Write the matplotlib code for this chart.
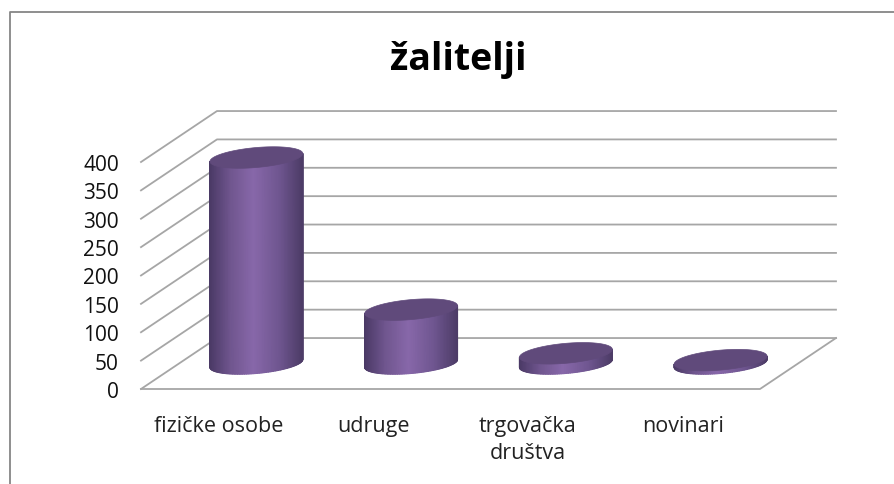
import numpy as np
import matplotlib
matplotlib.use('Agg')
import matplotlib.pyplot as plt
from matplotlib.colors import LinearSegmentedColormap
from matplotlib.lines import Line2D

naslov = 'žalitelji'
kategorije = ['fizičke osobe', 'udruge', 'trgovačka\ndruštva', 'novinari']
vrijednosti = [363, 95, 18, 6]
y_oznake = [0, 50, 100, 150, 200, 250, 300, 350, 400]

W, H = 895, 485
plt.rcParams['font.family'] = ['Open Sans', 'DejaVu Sans']

fig = plt.figure(figsize=(W / 100, H / 100), dpi=100)
# prednja ravnina grafa: x 141-760 px, y 163-390 px
ax = fig.add_axes([141 / W, 1 - 390 / H, (760 - 141) / W, (390 - 163) / H])
ax.set_xlim(-0.5, 3.5)
ax.set_ylim(0, 400)
ax.patch.set_visible(False)
for s in ax.spines.values():
    s.set_visible(False)

# pomak dubine u jedinicama osi
dx = 0.491
dy = 89.8
siva = '#a6a6a6'

for v in y_oznake:
    ax.plot([-0.5, -0.5 + dx, 3.5 + dx], [v, v + dy, v + dy], color=siva, lw=1.3, clip_on=False, zorder=1)
ax.plot([-0.5, 3.5, 3.5 + dx], [0, 0, dy], color=siva, lw=1.3, clip_on=False, zorder=1)

# valjci
a = 0.300
sm = 7.0
b = 17.6
cmap = LinearSegmentedColormap.from_list('ljub', [(0, '#4b3a66'), (0.22, '#70568f'), (0.47, '#8868aa'),
                                                  (0.75, '#6f5690'), (1, '#4d3c67')])
t = np.linspace(np.pi, 2 * np.pi, 80)
sv = np.linspace(0, 2 * np.pi, 200)
for i, v in enumerate(vrijednosti):
    cx = i + dx / 2
    y0 = dy / 2
    x_ruba = cx + a * np.cos(t)
    y_ruba = y0 + sm * np.cos(t) + b * np.sin(t)
    X = np.vstack([x_ruba, x_ruba])
    Y = np.vstack([y_ruba, y0 + v + sm * np.cos(t)])
    C = np.vstack([(x_ruba - x_ruba[0]) / (x_ruba[-1] - x_ruba[0])] * 2)
    ax.pcolormesh(X, Y, C, cmap=cmap, vmin=0, vmax=1, shading='gouraud', clip_on=False, zorder=3)
    ax.fill(cx + a * np.cos(sv), y0 + v + sm * np.cos(sv) + b * np.sin(sv), color='#604a7b', lw=0.5,
            clip_on=False, zorder=4)

ax.set_xlim(-0.5, 3.5)
ax.set_ylim(0, 400)
ax.set_yticks(y_oznake)
ax.set_xticks(range(len(kategorije)))
ax.set_xticklabels(kategorije, linespacing=1.38)
ax.tick_params(axis='y', length=0, pad=16, labelsize=15, labelcolor='#111111')
ax.tick_params(axis='x', length=0, pad=19, labelsize=15.5, labelcolor='#222222')

fig.text(458 / W, 1 - 60 / H, naslov, ha='center', va='center', fontsize=27, fontweight='bold', color='black')

# okvir
fig.add_artist(Line2D([10 / W, 10 / W, 1], [0, 1 - 13 / H, 1 - 13 / H], color='#868686', lw=1.3))

fig.savefig('out.png', dpi=100)
